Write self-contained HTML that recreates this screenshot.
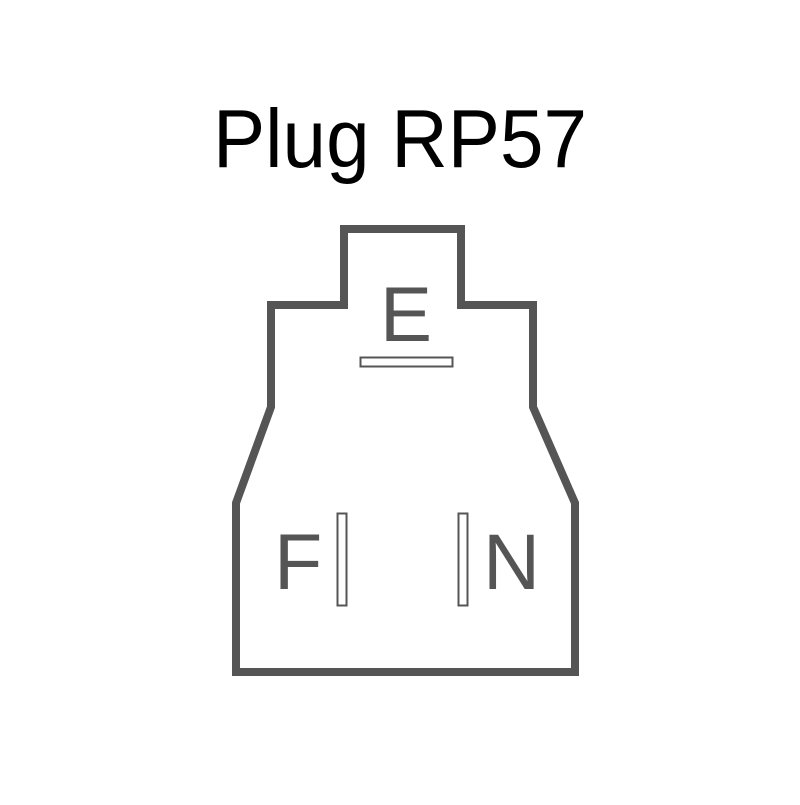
<!DOCTYPE html>
<html><head><style>html,body{margin:0;padding:0;background:#fff}</style></head>
<body>
<svg width="800" height="800" viewBox="0 0 800 800" xmlns="http://www.w3.org/2000/svg">
<rect width="800" height="800" fill="#fff"/>
<text x="213" y="167" font-family="Liberation Sans, Arial, sans-serif" font-size="83" fill="#000" textLength="374" lengthAdjust="spacingAndGlyphs">Plug RP57</text>
<path d="M344 229 H461 V305 H533 V407 L575 503 V672 H236 V503 L271 407 V305 H344 Z" fill="none" stroke="#555" stroke-width="8" stroke-linejoin="miter"/>
<text x="380" y="341" font-family="Liberation Sans, Arial, sans-serif" font-size="78" fill="#555">E</text>
<text x="274" y="589" font-family="Liberation Sans, Arial, sans-serif" font-size="79" fill="#555">F</text>
<text x="483" y="589" font-family="Liberation Sans, Arial, sans-serif" font-size="79" fill="#555">N</text>
<rect x="360.5" y="357.5" width="92" height="9" fill="#fff" stroke="#555" stroke-width="2"/>
<rect x="337.5" y="513.5" width="9" height="92" fill="#fff" stroke="#555" stroke-width="2"/>
<rect x="458.5" y="513.5" width="9" height="92" fill="#fff" stroke="#555" stroke-width="2"/>
</svg>
</body></html>
